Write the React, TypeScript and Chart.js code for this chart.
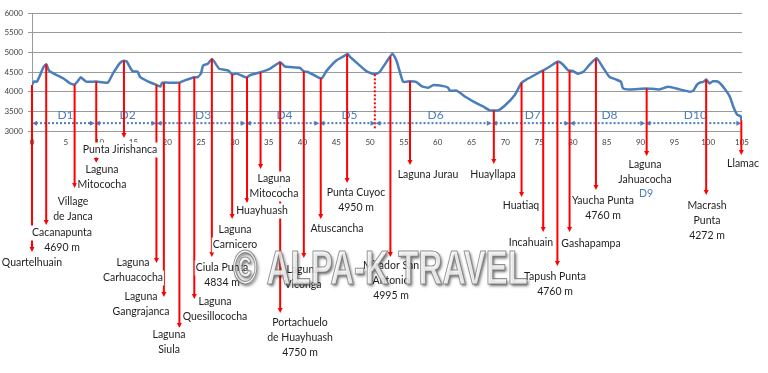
import React, { useEffect, useRef } from "react";
import { Chart, registerables } from "chart.js";

Chart.register(...registerables);

// ---------- DATA ----------
const KM = [
  0, 0.3, 0.75, 1.1, 1.7, 2.1, 2.5, 3.1, 4.6, 5.6, 6.3, 6.9, 7.2, 8.0, 9.5, 11.2, 12.0, 13.0, 13.6, 14.0,
  14.7, 15.0, 15.6, 16.0, 17.2, 18.4, 19.0, 19.2, 19.6, 21.8, 22.8, 24.0, 24.5, 25.0, 25.3, 26.0, 26.6, 27.0,
  27.7, 29.0, 29.6, 30.3, 31.7, 32.2, 33.9, 35.2, 36.7, 37.4, 39.6, 40.2, 40.8, 42.8, 43.5, 45.0, 46.0, 46.7,
  47.0, 48.2, 49.5, 50.7, 51.4, 52.4, 53.3, 53.9, 54.4, 54.9, 55.9, 56.8, 57.6, 58.6, 59.3, 60.8, 61.5, 61.8,
  62.8, 64.2, 65.7, 66.7, 67.7, 68.9, 69.9, 71.4, 72.4, 73.1, 75.6, 76.6, 77.8, 78.5, 79.3, 80.0, 80.7, 81.5,
  82.5, 83.5, 84.4, 85.4, 86.4, 87.1, 87.4, 88.4, 90.9, 92.8, 94.1, 95.8, 97.3, 97.8, 98.3, 98.7, 99.3, 99.7,
  100.2, 100.7, 101.5, 102.4, 103.2, 103.7, 104.3, 104.8, 104.9,
];
const ELEV = [
  4171, 4256, 4256, 4385, 4624, 4700, 4540, 4470, 4342, 4214, 4180, 4300, 4368, 4256, 4256, 4230, 4470, 4727, 4785, 4770,
  4556, 4513, 4513, 4368, 4256, 4171, 4128, 4214, 4230, 4230, 4300, 4368, 4368, 4470, 4667, 4708, 4834, 4750,
  4583, 4541, 4441, 4458, 4358, 4416, 4500, 4583, 4750, 4641, 4608, 4516, 4500, 4333, 4516, 4791, 4891, 4958,
  4891, 4708, 4516, 4441, 4500, 4750, 4965, 4791, 4500, 4250, 4266, 4250, 4141, 4100, 4166, 4141, 4108, 4025,
  4025, 3858, 3708, 3625, 3525, 3525, 3641, 3916, 4225, 4308, 4541, 4641, 4766, 4691, 4541, 4525, 4458, 4500,
  4691, 4850, 4625, 4375, 4308, 4250, 4083, 4058, 4083, 4058, 4125, 4058, 4000, 4025, 4166, 4225, 4250, 4308,
  4208, 4266, 4250, 4083, 3875, 3625, 3416, 3375, 3275,
];

const Y_MIN = 3000;
const Y_MAX = 6000;
const Y_STEP = 500;
const X_MIN = 0;
const X_MAX = 105;
const X_STEP = 5;

const DAY_NAMES = ["D1", "D2", "D3", "D4", "D5", "D6", "D7", "D8", "D10"];
const DAY_FROM = [0, 9.3, 18.4, 31.6, 42.5, 50.8, 68.0, 79.5, 90.7];
const DAY_TO = [9.3, 18.4, 31.6, 42.5, 50.8, 68.0, 79.5, 90.7, 104.9];
const DAY_LEVEL = 3200;
const REST_DAY = "D9";
const CAMP_MARK_KM = 50.7;

const PLACE_NAMES: string[][] = [
  ["Quartelhuain"],
  ["Cacanapunta", "4690 m"],
  ["Village", "de Janca"],
  ["Laguna", "Mitococha"],
  ["Punta Jirishanca"],
  ["Laguna", "Carhuacocha"],
  ["Laguna", "Gangrajanca"],
  ["Laguna", "Siula"],
  ["Laguna", "Quesillococha"],
  ["Ciula Punta", "4834 m"],
  ["Laguna", "Carnicero"],
  ["Huayhuash"],
  ["Laguna", "Mitococha"],
  ["Portachuelo", "de Huayhuash", "4750 m"],
  ["Laguna", "Viconga"],
  ["Atuscancha"],
  ["Punta Cuyoc", "4950 m"],
  ["Mirador San", "Antonio", "4995 m"],
  ["Laguna Jurau"],
  ["Huayllapa"],
  ["Huatiaq"],
  ["Incahuain"],
  ["Tapush Punta", "4760 m"],
  ["Gashapampa"],
  ["Yaucha Punta", "4760 m"],
  ["Laguna", "Jahuacocha"],
  ["Macrash", "Punta", "4272 m"],
  ["Llamac"],
];
const PLACE_KM = [
  0, 2.1, 6.3, 9.5, 13.6, 18.4, 19.5, 21.8, 24.0, 26.6, 29.6, 31.8, 33.8, 36.7, 40.2, 42.7, 46.6, 53.0,
  55.9, 68.3, 72.4, 75.6, 77.7, 79.5, 83.4, 90.9, 99.7, 104.9,
];
const WATERMARK = "© ALPA-K TRAVEL";

// ---------- LAYOUT (pixels: arrow tip y, label centre x, first label line y) ----------
const LABEL_LAYOUT: number[][] = [
  [252, 32, 263],
  [225, 62, 233],
  [188, 73, 202],
  [163, 102, 170],
  [138, 120, 150],
  [263, 133, 263],
  [297, 141, 297],
  [328, 169, 335],
  [299, 215, 302],
  [257, 222, 268],
  [219, 235, 230],
  [203, 262, 211],
  [169, 274, 179],
  [313, 300, 323],
  [258, 303, 270],
  [219, 337, 229],
  [183, 356, 193],
  [257, 391, 266],
  [165, 428, 175],
  [164, 493, 175],
  [197, 521, 206],
  [232, 531, 243],
  [266, 555, 277],
  [232, 591, 244],
  [190, 603, 201],
  [156, 645, 165],
  [195, 707, 206],
  [155, 743, 164],
];
const REST_DAY_POS = [646, 194];
const LINE_GAP = 15;
const LABEL_FONT = "10.5px Lato";
const BLUE = "#4a7ebb";
const RED = "#ff0000";

function elevAt(km: number): number {
  if (km <= KM[0]) return ELEV[0];
  for (let i = 1; i < KM.length; i++) {
    if (km <= KM[i]) {
      const t = (km - KM[i - 1]) / (KM[i] - KM[i - 1] || 1);
      return ELEV[i - 1] + t * (ELEV[i] - ELEV[i - 1]);
    }
  }
  return ELEV[ELEV.length - 1];
}

const annotations = {
  id: "annotations",
  afterDatasetsDraw(chart: any) {
    const ctx = chart.ctx as CanvasRenderingContext2D;
    const xs = chart.scales.x;
    const ys = chart.scales.y;
    ctx.save();

    // day segments
    const dy = ys.getPixelForValue(DAY_LEVEL);
    ctx.strokeStyle = BLUE;
    ctx.fillStyle = BLUE;
    ctx.lineWidth = 2;
    for (let i = 0; i < DAY_NAMES.length; i++) {
      const x1 = xs.getPixelForValue(DAY_FROM[i]);
      const x2 = xs.getPixelForValue(DAY_TO[i]);
      ctx.setLineDash([2, 2]);
      ctx.beginPath();
      ctx.moveTo(x1 + 4, dy);
      ctx.lineTo(x2 - 4, dy);
      ctx.stroke();
      ctx.setLineDash([]);
      ctx.beginPath();
      ctx.moveTo(x1, dy);
      ctx.lineTo(x1 + 5, dy - 2.5);
      ctx.lineTo(x1 + 5, dy + 2.5);
      ctx.closePath();
      ctx.fill();
      ctx.beginPath();
      ctx.moveTo(x2, dy);
      ctx.lineTo(x2 - 5, dy - 2.5);
      ctx.lineTo(x2 - 5, dy + 2.5);
      ctx.closePath();
      ctx.fill();
      ctx.font = "12px Lato";
      ctx.textAlign = "center";
      ctx.textBaseline = "middle";
      ctx.fillText(DAY_NAMES[i], (x1 + x2) / 2 + 2, dy - 8);
    }

    // camp mark (dotted red)
    const cx = xs.getPixelForValue(CAMP_MARK_KM);
    ctx.strokeStyle = RED;
    ctx.lineWidth = 2;
    ctx.setLineDash([2, 2]);
    ctx.beginPath();
    ctx.moveTo(cx, ys.getPixelForValue(elevAt(CAMP_MARK_KM)));
    ctx.lineTo(cx, ys.getPixelForValue(Y_MIN) - 2);
    ctx.stroke();
    ctx.setLineDash([]);

    // red leader lines
    ctx.fillStyle = RED;
    for (let i = 0; i < PLACE_KM.length; i++) {
      const x = xs.getPixelForValue(PLACE_KM[i]);
      const y0 = ys.getPixelForValue(elevAt(PLACE_KM[i]));
      const tip = LABEL_LAYOUT[i][0];
      ctx.beginPath();
      ctx.moveTo(x, y0);
      ctx.lineTo(x, tip - 4);
      ctx.stroke();
      ctx.beginPath();
      ctx.moveTo(x - 2.5, tip - 5);
      ctx.lineTo(x + 2.5, tip - 5);
      ctx.lineTo(x, tip);
      ctx.closePath();
      ctx.fill();
    }

    // labels with white boxes
    ctx.font = LABEL_FONT;
    ctx.textAlign = "center";
    ctx.textBaseline = "middle";
    for (let i = 0; i < PLACE_NAMES.length; i++) {
      const [, lx, ly] = LABEL_LAYOUT[i];
      PLACE_NAMES[i].forEach((t, j) => {
        const w = ctx.measureText(t).width;
        const y = ly + j * LINE_GAP;
        ctx.fillStyle = "#ffffff";
        ctx.fillRect(lx - w / 2 - 1, y - 7.5, w + 2, 15);
      });
    }
    for (let i = 0; i < PLACE_NAMES.length; i++) {
      const [, lx, ly] = LABEL_LAYOUT[i];
      PLACE_NAMES[i].forEach((t, j) => {
        ctx.fillStyle = "#1e1e1e";
        ctx.fillText(t, lx, ly + j * LINE_GAP);
      });
    }
    ctx.fillStyle = BLUE;
    ctx.fillText(REST_DAY, REST_DAY_POS[0], REST_DAY_POS[1]);

    // watermark
    ctx.font = "bold 48px 'Liberation Sans'";
    ctx.textAlign = "left";
    ctx.textBaseline = "alphabetic";
    const mw = ctx.measureText(WATERMARK).width;
    const target = 295;
    ctx.translate(233, 284);
    ctx.scale(target / mw, 1.0);
    ctx.shadowColor = "rgba(0,0,0,0.7)";
    ctx.shadowBlur = 3;
    ctx.shadowOffsetX = 1.5;
    ctx.shadowOffsetY = 1.5;
    ctx.fillStyle = "rgba(255,255,255,0.8)";
    ctx.fillText(WATERMARK, 0, 0);
    ctx.shadowColor = "transparent";
    ctx.strokeStyle = "rgba(110,110,110,0.75)";
    ctx.lineWidth = 1.2;
    ctx.strokeText(WATERMARK, 0, 0);
    ctx.restore();
  },
};

export default function App() {
  const ref = useRef<HTMLCanvasElement | null>(null);
  useEffect(() => {
    if (!ref.current) return;
    const chart = new Chart(ref.current, {
      type: "line",
      data: {
        datasets: [
          {
            data: KM.map((k, i) => ({ x: k, y: ELEV[i] })),
            borderColor: BLUE,
            borderWidth: 2.5,
            pointRadius: 0,
            tension: 0.15,
            fill: false,
          },
        ],
      },
      options: {
        animation: false,
        responsive: false,
        devicePixelRatio: 1,
        layout: { padding: { top: 13, right: 26, left: 0, bottom: 0 } },
        plugins: { legend: { display: false }, tooltip: { enabled: false } },
        scales: {
          x: {
            type: "linear",
            min: X_MIN,
            max: X_MAX,
            afterFit: (s: any) => {
              s.height = 242;
            },
            ticks: {
              stepSize: X_STEP,
              autoSkip: false,
              maxRotation: 0,
              padding: 7,
              color: "#404040",
              font: { family: "Lato", size: 8 },
              callback: (v: any) => String(v),
            },
            grid: { display: false, drawTicks: false },
            border: { display: false },
          },
          y: {
            min: Y_MIN,
            max: Y_MAX,
            afterFit: (s: any) => {
              s.width = 32;
            },
            ticks: {
              stepSize: Y_STEP,
              padding: 5,
              color: "#404040",
              font: { family: "Lato", size: 8 },
              callback: (v: any) => String(v),
            },
            grid: { color: "#9a9a9a", lineWidth: 1, tickLength: 4 },
            border: { display: true, color: "#9a9a9a", width: 1 },
          },
        },
      },
      plugins: [annotations],
    });
    return () => chart.destroy();
  }, []);
  return (
    <div style={{ position: "fixed", left: 0, top: 0, width: 768, height: 373, background: "#fff" }}>
      <canvas ref={ref} width={768} height={373} style={{ display: "block" }} />
    </div>
  );
}
